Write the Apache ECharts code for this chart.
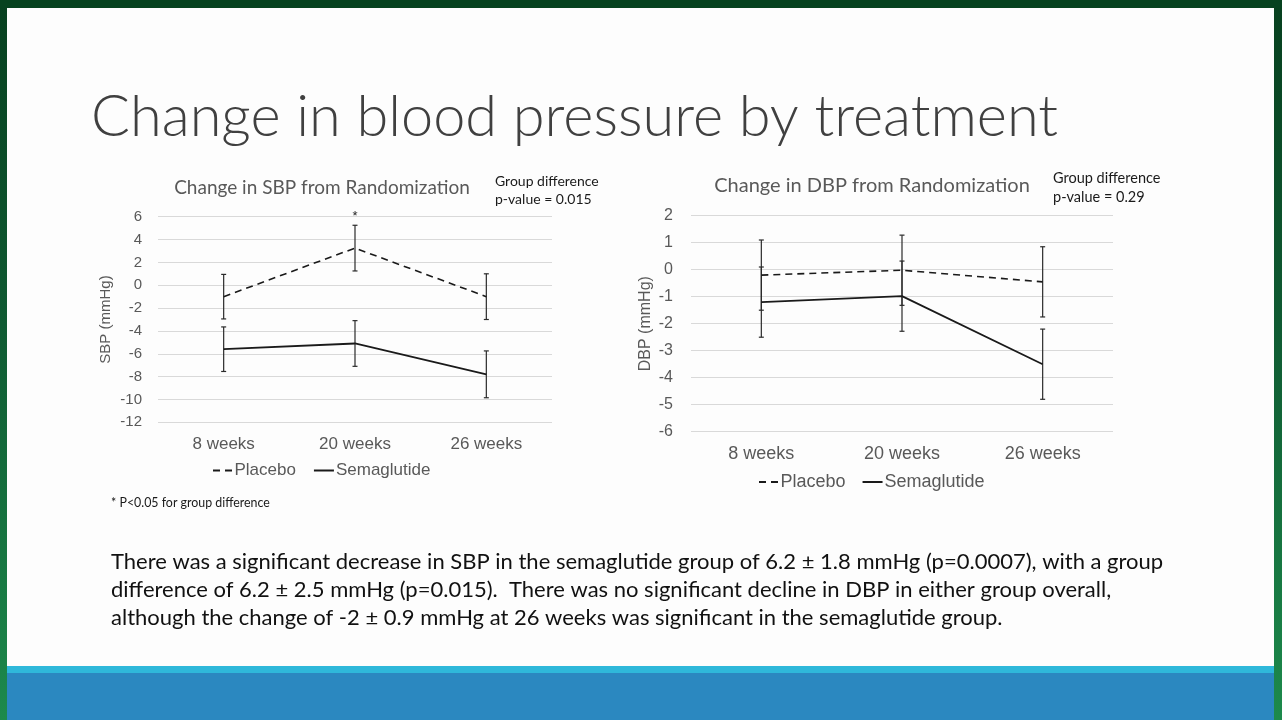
<!DOCTYPE html>
<html>
<head>
<meta charset="utf-8">
<script src="https://cdn.jsdelivr.net/npm/echarts@6/dist/echarts.min.js"></script>
<style>
  html, body { margin: 0; padding: 0; }
  body {
    width: 1282px; height: 720px; overflow: hidden; position: relative;
    background: linear-gradient(to bottom, #07401f 0%, #0f5a32 45%, #1d8a4c 100%);
  }
  #topbar { position: absolute; left: 0; top: 0; width: 1282px; height: 8px; background: #06421f; }
  #slide { position: absolute; left: 7px; top: 8px; width: 1267px; height: 658px; background: #fdfdfd; }
  #stripe { position: absolute; left: 7px; top: 666px; width: 1267px; height: 7px; background: #2fb8da; }
  #band { position: absolute; left: 7px; top: 673px; width: 1267px; height: 47px; background: #2b88c0; }
  #main { position: absolute; left: 0; top: 0; width: 1282px; height: 720px; }
</style>
</head>
<body>
<div id="topbar"></div>
<div id="slide"></div>
<div id="stripe"></div>
<div id="band"></div>
<div id="main"></div>
<script>
// data
var categories = ['8 weeks', '20 weeks', '26 weeks'];

var sbpPlacebo = [-1.0, 3.25, -1.0];
var sbpPlaceboErr = [1.95, 2.0, 2.0];
var sbpSema = [-5.6, -5.1, -7.8];
var sbpSemaErr = [1.95, 2.0, 2.05];
var sbpStars = ['', '*', ''];

var dbpPlacebo = [-0.2, -0.02, -0.45];
var dbpPlaceboErr = [1.3, 1.3, 1.3];
var dbpSema = [-1.2, -0.98, -3.5];
var dbpSemaErr = [1.3, 1.3, 1.3];

var sbpTicks = { min: -12, max: 6, interval: 2 };
var dbpTicks = { min: -6, max: 2, interval: 1 };

var paragraph = [
  'There was a significant decrease in SBP in the semaglutide group of 6.2 \u00b1 1.8 mmHg (p=0.0007), with a group',
  'difference of 6.2 \u00b1 2.5 mmHg (p=0.015).  There was no significant decline in DBP in either group overall,',
  'although the change of -2 \u00b1 0.9 mmHg at 26 weeks was significant in the semaglutide group.'
];

function errData(vals, errs) {
  return vals.map(function (v, i) { return [i, v - errs[i], v + errs[i]]; });
}

function errSeries(name, vals, errs, xi, stars) {
  return {
    type: 'custom',
    name: name,
    xAxisIndex: xi,
    yAxisIndex: xi,
    data: errData(vals, errs),
    z: 3,
    renderItem: function (params, api) {
      var lo = api.coord([api.value(0), api.value(1)]);
      var hi = api.coord([api.value(0), api.value(2)]);
      var cap = 2.5;
      var st = { stroke: '#2a2a2a', lineWidth: 1.2 };
      var kids = [
        { type: 'line', shape: { x1: lo[0], y1: lo[1], x2: hi[0], y2: hi[1] }, style: st },
        { type: 'line', shape: { x1: lo[0] - cap, y1: lo[1], x2: lo[0] + cap, y2: lo[1] }, style: st },
        { type: 'line', shape: { x1: hi[0] - cap, y1: hi[1], x2: hi[0] + cap, y2: hi[1] }, style: st }
      ];
      if (stars && stars[params.dataIndex]) {
        kids.push({ type: 'text', x: hi[0], y: hi[1] - 9,
          style: { text: stars[params.dataIndex], font: '13px "Liberation Sans"', fill: '#222',
                   align: 'center', verticalAlign: 'middle' } });
      }
      return { type: 'group', children: kids };
    }
  };
}

function lineSeries(name, vals, xi, dashed) {
  return {
    type: 'line',
    name: name,
    xAxisIndex: xi,
    yAxisIndex: xi,
    data: vals,
    symbol: 'none',
    z: 4,
    lineStyle: { color: '#1a1a1a', width: dashed ? 1.6 : 1.8, type: dashed ? [7, 5] : 'solid' },
    itemStyle: { color: '#1a1a1a' }
  };
}

function txt(s, x, y, size, color, family, align, weight) {
  return {
    type: 'text', x: x, y: y, silent: true,
    style: {
      text: s, fill: color,
      font: (weight || 'normal') + ' ' + size + 'px ' + family,
      align: align || 'left', verticalAlign: 'middle'
    }
  };
}

var chart = echarts.init(document.getElementById('main'));
var axisLbl = '#595959';
var arial = '"Liberation Sans", Arial, sans-serif';
var calibri = 'Lato, "Open Sans", sans-serif';

var dashIcon = 'path://M0,0H7V2H0Z M12,0H19V2H12Z';
var solidIcon = 'path://M0,0H20V2H0Z';

function legendFor(left, top, size, gap) {
  return {
    left: left, top: top, itemWidth: 20, itemHeight: 2, itemGap: gap,
    data: [
      { name: 'Placebo', icon: dashIcon, itemStyle: { color: '#1a1a1a' } },
      { name: 'Semaglutide', icon: solidIcon, itemStyle: { color: '#1a1a1a' } }
    ],
    textStyle: { color: axisLbl, fontSize: size, fontFamily: arial, padding: [0, 0, 0, -3] },
    selectedMode: false
  };
}

var option = {
  animation: false,
  grid: [
    { left: 158, right: 730, top: 216.7, bottom: 297.7 },
    { left: 691, right: 169, top: 215.7, bottom: 288.3 }
  ],
  xAxis: [0, 1].map(function (i) {
    return {
      type: 'category', gridIndex: i, data: categories, boundaryGap: true,
      axisLine: { show: false }, axisTick: { show: false },
      axisLabel: { color: axisLbl, fontSize: i ? 18 : 17, fontFamily: arial, margin: i ? 13 : 14 }
    };
  }),
  yAxis: [
    {
      type: 'value', gridIndex: 0, min: sbpTicks.min, max: sbpTicks.max, interval: sbpTicks.interval,
      name: 'SBP (mmHg)', nameLocation: 'middle', nameGap: 45, nameRotate: 90,
      nameTextStyle: { color: axisLbl, fontSize: 15, fontFamily: arial },
      axisLine: { show: false }, axisTick: { show: false },
      axisLabel: { color: axisLbl, fontSize: 15, fontFamily: arial, margin: 16 },
      splitLine: { lineStyle: { color: '#d9d9d9', width: 1 } }
    },
    {
      type: 'value', gridIndex: 1, min: dbpTicks.min, max: dbpTicks.max, interval: dbpTicks.interval,
      name: 'DBP (mmHg)', nameLocation: 'middle', nameGap: 37, nameRotate: 90,
      nameTextStyle: { color: axisLbl, fontSize: 16, fontFamily: arial },
      axisLine: { show: false }, axisTick: { show: false },
      axisLabel: { color: axisLbl, fontSize: 16, fontFamily: arial, margin: 18 },
      splitLine: { lineStyle: { color: '#d9d9d9', width: 1 } }
    }
  ],
  legend: [legendFor(208, 457, 17, 18), legendFor(754, 468, 18, 17)],
  series: [
    lineSeries('Placebo', sbpPlacebo, 0, true),
    lineSeries('Semaglutide', sbpSema, 0, false),
    errSeries('sbpPlaceboErr', sbpPlacebo, sbpPlaceboErr, 0, sbpStars),
    errSeries('sbpSemaErr', sbpSema, sbpSemaErr, 0, null),
    lineSeries('Placebo', dbpPlacebo, 1, true),
    lineSeries('Semaglutide', dbpSema, 1, false),
    errSeries('dbpPlaceboErr', dbpPlacebo, dbpPlaceboErr, 1, null),
    errSeries('dbpSemaErr', dbpSema, dbpSemaErr, 1, null)
  ],
  graphic: [
    txt('Change in blood pressure by treatment', 91, 117, 57.7, '#404040', calibri, 'left', '300'),
    txt('Change in SBP from Randomization', 322, 188, 19, '#595959', calibri, 'center'),
    txt('Group difference', 495, 181, 14, '#1a1a1a', calibri),
    txt('p-value = 0.015', 495, 199, 14, '#1a1a1a', calibri),
    txt('Change in DBP from Randomization', 872, 186, 20, '#595959', calibri, 'center'),
    txt('Group difference', 1053, 178, 14.5, '#1a1a1a', calibri),
    txt('p-value = 0.29', 1053, 197, 14.5, '#1a1a1a', calibri),
    txt('* P<0.05 for group difference', 111, 503, 12.4, '#1a1a1a', calibri),
    txt(paragraph[0], 111, 562, 22, '#111', calibri),
    txt(paragraph[1], 111, 590, 22, '#111', calibri),
    txt(paragraph[2], 111, 618, 22, '#111', calibri)
  ]
};

chart.setOption(option);
window.onresize = function () { chart.resize(); };
</script>
</body>
</html>
